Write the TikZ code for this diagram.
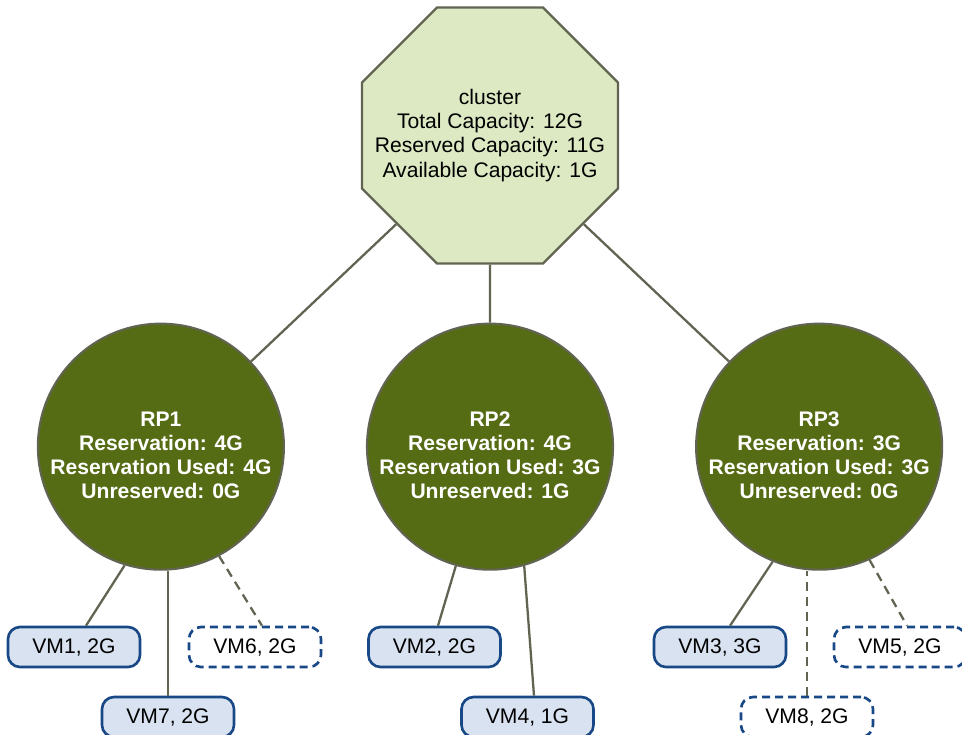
\documentclass[tikz,border=0pt]{standalone}
\usepackage{fontspec}
\setmainfont{Liberation Sans}
\usetikzlibrary{positioning}
\usetikzlibrary{shapes.geometric}

\definecolor{clusterfill}{RGB}{220,233,195}
\definecolor{edgegray}{RGB}{98,100,82}
\definecolor{rpgreen}{RGB}{85,107,20}
\definecolor{vmfill}{RGB}{217,226,240}
\definecolor{vmblue}{RGB}{25,72,135}

\begin{document}
\begin{tikzpicture}[auto,node distance=1cm,
txt/.style={font=\fontsize{12pt}{13.7pt}\selectfont, align=center},
clusternode/.style={txt, regular polygon, regular polygon sides=8, minimum size=5.54cm, inner sep=-0.6cm, fill=clusterfill, draw=edgegray, line width=1.3pt},
rpnode/.style={txt, circle, minimum size=4.92cm, inner sep=0pt, fill=rpgreen, draw=edgegray, line width=1.2pt, text=white, font=\fontsize{12pt}{13.7pt}\selectfont\bfseries},
vmbox/.style={txt, rectangle, rounded corners=0.24cm, minimum width=2.64cm, minimum height=0.8cm, fill=vmfill, draw=vmblue, line width=1.5pt},
vmdash/.style={vmbox, fill=white, dash pattern=on 0.16cm off 0.1cm},
link/.style={draw=edgegray, line width=1.3pt},
dashlink/.style={link, dash pattern=on 0.18cm off 0.12cm}
]
\useasboundingbox (0,0) rectangle (19.24,-14.68);

%create nodes
\node[clusternode] (cluster) at (9.8,-2.71) {cluster\\Total Capacity: 12G\\Reserved Capacity: 11G\\Available Capacity: 1G};
\node[rpnode, below=1.16cm of cluster] (rp2) {\rule{0pt}{18pt}RP2\\Reservation: 4G\\Reservation Used: 3G\\Unreserved: 1G};
\node[rpnode, left=1.62cm of rp2] (rp1) {\rule{0pt}{18pt}RP1\\Reservation: 4G\\Reservation Used: 4G\\Unreserved: 0G};
\node[rpnode, right=1.62cm of rp2] (rp3) {\rule{0pt}{18pt}RP3\\Reservation: 3G\\Reservation Used: 3G\\Unreserved: 0G};

\node[vmbox] (vm1) at (1.48,-12.94) {VM1, 2G};
\node[vmdash] (vm6) at (5.10,-12.94) {VM6, 2G};
\node[vmbox] (vm7) at (3.36,-14.34) {VM7, 2G};
\node[vmbox] (vm2) at (8.69,-12.94) {VM2, 2G};
\node[vmbox] (vm4) at (10.55,-14.34) {VM4, 1G};
\node[vmbox] (vm3) at (14.40,-12.94) {VM3, 3G};
\node[vmdash] (vm5) at (18.0,-12.94) {VM5, 2G};
\node[vmdash] (vm8) at (16.14,-14.34) {VM8, 2G};

%draw paths
\draw[link] (cluster) -- (rp1);
\draw[link] (cluster) -- (rp2);
\draw[link] (cluster) -- (rp3);

\draw[link] (rp1.253) -- ([xshift=0.24cm]vm1.north);
\draw[link] (vm7.north) -- (vm7.north |- rp1.south);
\draw[dashlink] (rp1.298) -- ([xshift=0.14cm]vm6.north);

\draw[link] (rp2.254) -- ([xshift=0.07cm]vm2.north);
\draw[link] (rp2.286) -- ([xshift=0.13cm]vm4.north);

\draw[link] (rp3.248) -- ([xshift=0.2cm]vm3.north);
\draw[dashlink] (vm8.north) -- (vm8.north |- rp3.south);
\draw[dashlink] (rp3.294) -- ([xshift=0.14cm]vm5.north);

\end{tikzpicture}
\end{document}
